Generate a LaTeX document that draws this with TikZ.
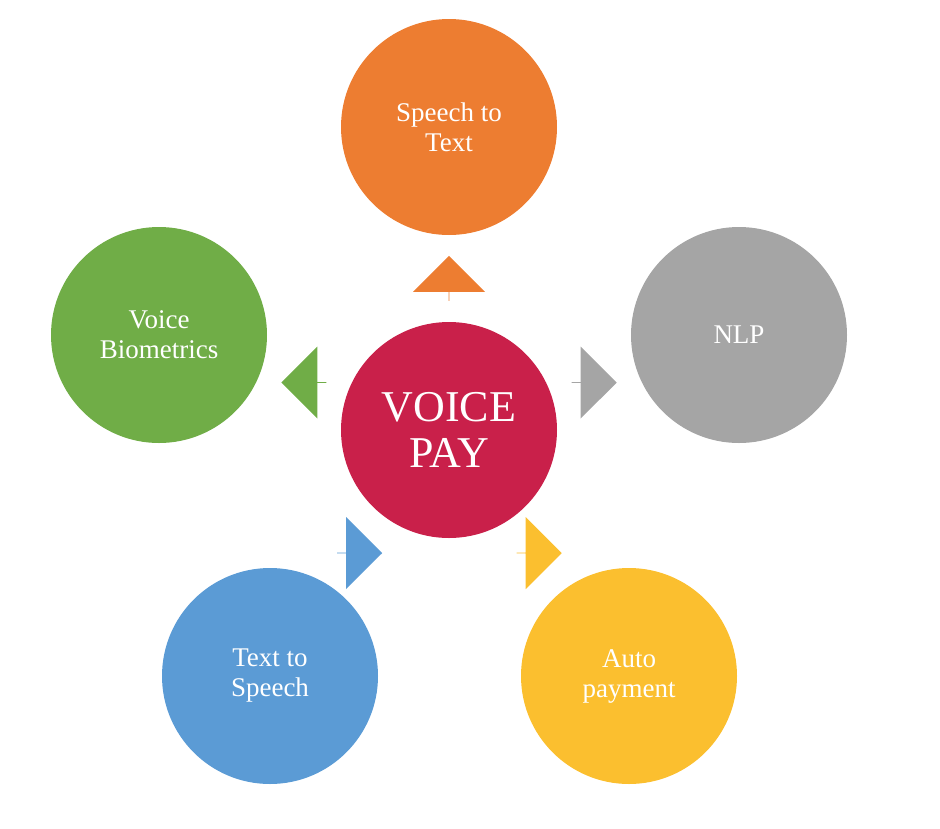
\documentclass[tikz,border=0pt]{standalone}
\usepackage{fontspec}
\setmainfont{Liberation Serif}
\usetikzlibrary{shapes.arrows,calc}
\definecolor{corange}{HTML}{ED7D31}
\definecolor{cgray}{HTML}{A5A5A5}
\definecolor{cgreen}{HTML}{70AD47}
\definecolor{cblue}{HTML}{5B9BD5}
\definecolor{cyellow}{HTML}{FBBF2F}
\definecolor{ccenter}{HTML}{C9204A}
\begin{document}
\begin{tikzpicture}[x=1pt,y=-1pt,
  bub/.style={circle,minimum size=216pt,inner sep=0pt,text=white,align=center,font=\fontsize{27}{30}\selectfont},
  blockarrow/.style={single arrow,draw=none,minimum height=45pt,minimum width=72pt,single arrow head extend=15pt,inner sep=0pt,single arrow head indent=0pt,text width=0pt}]
\useasboundingbox (0,0) rectangle (940,828);
\node[bub,fill=ccenter,font=\fontsize{44}{46}\selectfont] (c) at (449,430) {VOICE\\PAY};
\node[bub,fill=corange] (t) at (449,127) {Speech to\\Text};
\node[bub,fill=cgray] (n) at (739,335) {NLP};
\node[bub,fill=cgreen] (v) at (159,335) {Voice\\Biometrics};
\node[bub,fill=cblue] (s) at (270,676) {Text to\\Speech};
\node[bub,fill=cyellow] (a) at (629,676) {Auto\\payment};
\foreach \tgt/\col in {t/corange,n/cgray,v/cgreen,s/cblue,a/cyellow}{
  \path let \p1=(c), \p2=(\tgt), \n1={atan2(\y2-\y1,\x2-\x1)} in
    node[blockarrow,fill=\col,shape border rotate=\n1] (arr\tgt) at ($(c)!0.5!(\tgt)$) {};
}
\end{tikzpicture}
\end{document}
